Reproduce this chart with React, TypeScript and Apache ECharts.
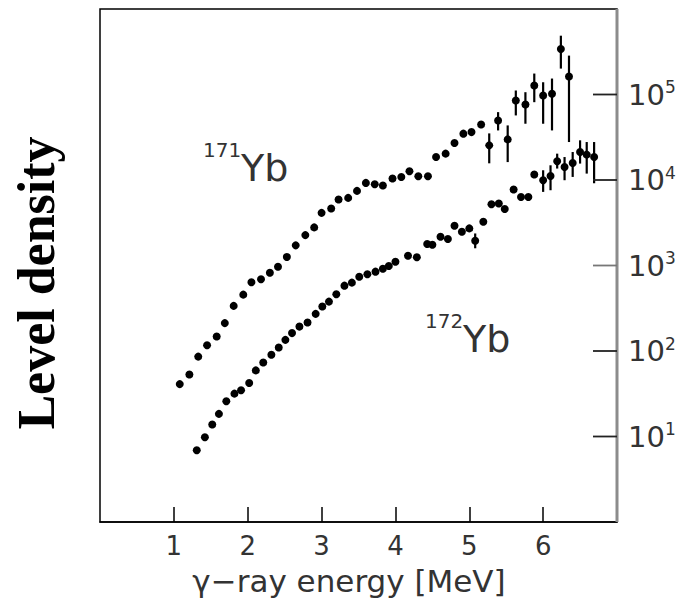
import React, { useEffect, useRef } from "react";
import * as echarts from "echarts";

// 171Yb level density (upper series)
const yb171X = [1.08, 1.21, 1.33, 1.45, 1.58, 1.69, 1.81, 1.94, 2.05, 2.18, 2.30, 2.41, 2.53, 2.65, 2.78, 2.90, 3.00, 3.13, 3.23, 3.36, 3.48, 3.60, 3.72, 3.83, 3.96, 4.08, 4.19, 4.31, 4.44, 4.55, 4.68, 4.80, 4.92, 5.03, 5.16, 5.27, 5.39, 5.52, 5.63, 5.76, 5.88, 6.00, 6.12, 6.24, 6.35];
const yb171Y = [41, 53, 86, 117, 148, 212, 337, 456, 637, 690, 824, 968, 1260, 1721, 2268, 2790, 4128, 4645, 5916, 6177, 7454, 9245, 8918, 8616, 10400, 10860, 12650, 11060, 11060, 18570, 20340, 27050, 34830, 36340, 44670, 25420, 49750, 29850, 85100, 76400, 127400, 97300, 101900, 341200, 162300];

// 171Yb error bars
const yb171ErrX = [5.27, 5.39, 5.52, 5.63, 5.76, 5.88, 6.00, 6.12, 6.24, 6.35];
const yb171ErrLo = [15670, 38000, 16200, 56900, 45500, 81300, 45500, 38000, 200900, 27800];
const yb171ErrHi = [35080, 62200, 43500, 111400, 106400, 175800, 139100, 153700, 487300, 285000];

// 172Yb level density (lower series)
const yb172X = [1.31, 1.42, 1.52, 1.61, 1.71, 1.82, 1.91, 2.02, 2.11, 2.21, 2.32, 2.42, 2.51, 2.60, 2.70, 2.81, 2.92, 3.01, 3.10, 3.20, 3.31, 3.41, 3.51, 3.62, 3.73, 3.83, 3.91, 4.00, 4.17, 4.29, 4.43, 4.50, 4.61, 4.71, 4.80, 4.90, 5.00, 5.08, 5.19, 5.30, 5.40, 5.48, 5.60, 5.70, 5.80, 5.88, 6.00, 6.10, 6.19, 6.29, 6.40, 6.50, 6.59, 6.69];
const yb172Y = [6.9, 9.8, 13.8, 18.4, 25.8, 31.7, 34.7, 42.3, 59.3, 73.5, 90.4, 110, 135, 162, 193, 215, 272, 331, 378, 461, 581, 630, 740, 789, 847, 918, 986, 1107, 1300, 1247, 1782, 1750, 2168, 2037, 2912, 2479, 2716, 1946, 3243, 5212, 5309, 4570, 7740, 6340, 6340, 11580, 9940, 11150, 16550, 14190, 15800, 21240, 19820, 18570];

// 172Yb error bars
const yb172ErrX = [5.08, 6.00, 6.10, 6.19, 6.29, 6.40, 6.50, 6.59, 6.69];
const yb172ErrLo = [1590, 7260, 7590, 13610, 9940, 10860, 15560, 11880, 9160];
const yb172ErrHi = [2370, 13000, 14860, 20330, 18560, 21240, 29110, 27800, 27800];

const xTickValues = [1, 2, 3, 4, 5, 6];
const yLabelExponents = [1, 2, 3, 4, 5];
const X_MIN = 0;
const X_MAX = 7;
const Y_MIN = 1;
const Y_MAX = 1e6;

const FONT = "DejaVu Sans";

export default function App() {
  const ref = useRef<HTMLDivElement>(null);

  useEffect(() => {
    if (!ref.current) return;
    const chart = echarts.init(ref.current, null, { renderer: "svg" });

    const pts171 = yb171X.map((x, i) => [x, yb171Y[i]]);
    const pts172 = yb172X.map((x, i) => [x, yb172Y[i]]);
    const err171 = yb171ErrX.map((x, i) => [x, yb171ErrLo[i], yb171ErrHi[i]]);
    const err172 = yb172ErrX.map((x, i) => [x, yb172ErrLo[i], yb172ErrHi[i]]);

    const renderErr = (params: any, api: any) => {
      const x = api.value(0);
      const lo = api.coord([x, api.value(1)]);
      const hi = api.coord([x, api.value(2)]);
      return {
        type: "line",
        shape: { x1: lo[0], y1: lo[1], x2: hi[0], y2: hi[1] },
        style: { stroke: "#000", lineWidth: 2.2 },
      };
    };

    const baseGraphic: any[] = [
      {
        type: "text",
        x: 36,
        y: 283,
        rotation: Math.PI / 2,
        style: {
          text: "Level density",
          font: "bold 52px 'Liberation Serif'",
          fill: "#000",
          textAlign: "center",
          textVerticalAlign: "middle",
        },
      },
      {
        type: "text",
        x: 349,
        y: 581,
        style: {
          text: "\u03b3\u2212ray energy [MeV]",
          font: `31px '${FONT}'`,
          fill: "#333",
          textAlign: "center",
          textVerticalAlign: "middle",
        },
      },
      {
        type: "text",
        x: 203,
        y: 150,
        style: { text: "171", font: `20px '${FONT}'`, fill: "#333", textAlign: "left", textVerticalAlign: "middle" },
      },
      {
        type: "text",
        x: 241,
        y: 168,
        style: { text: "Yb", font: `38px '${FONT}'`, fill: "#333", textAlign: "left", textVerticalAlign: "middle" },
      },
      {
        type: "text",
        x: 425,
        y: 321,
        style: { text: "172", font: `20px '${FONT}'`, fill: "#333", textAlign: "left", textVerticalAlign: "middle" },
      },
      {
        type: "text",
        x: 463,
        y: 339,
        style: { text: "Yb", font: `38px '${FONT}'`, fill: "#333", textAlign: "left", textVerticalAlign: "middle" },
      },
    ];

    const option: any = {
      animation: false,
      grid: {
        left: 100,
        right: 65,
        top: 9,
        bottom: 84,
        show: true,
        borderColor: "#000",
        borderWidth: 1.5,
      },
      xAxis: {
        type: "value",
        min: X_MIN,
        max: X_MAX,
        interval: 1,
        axisLine: { show: true, onZero: false, lineStyle: { color: "#000", width: 1.5 } },
        axisTick: {
          show: true,
          inside: true,
          length: 15,
          customValues: xTickValues,
          lineStyle: { color: "#000", width: 1.5 },
        },
        axisLabel: {
          customValues: xTickValues,
          fontSize: 26,
          fontFamily: FONT,
          color: "#333",
          margin: 11,
        },
        splitLine: { show: false },
      },
      yAxis: {
        type: "log",
        logBase: 10,
        min: Y_MIN,
        max: Y_MAX,
        position: "right",
        axisLine: { show: false, onZero: false },
        axisTick: { show: false },
        axisLabel: {
          margin: 11,
          formatter: (v: number) => {
            const e = Math.round(Math.log10(v));
            if (yLabelExponents.indexOf(e) < 0) return "";
            return `{a|10}{b|${e}}`;
          },
          rich: {
            a: { fontSize: 29, fontFamily: FONT, color: "#333", lineHeight: 32 },
            b: { fontSize: 17, fontFamily: FONT, color: "#333", verticalAlign: "top", lineHeight: 14 },
          },
        },
        splitLine: { show: false },
      },
      series: [
        {
          type: "custom",
          renderItem: renderErr,
          data: err171,
          encode: { x: 0, y: [1, 2] },
          z: 1,
        },
        {
          type: "custom",
          renderItem: renderErr,
          data: err172,
          encode: { x: 0, y: [1, 2] },
          z: 1,
        },
        {
          type: "scatter",
          data: pts171,
          symbol: "circle",
          symbolSize: 8,
          itemStyle: { color: "#000", opacity: 1 },
          z: 3,
        },
        {
          type: "scatter",
          data: pts172,
          symbol: "circle",
          symbolSize: 8,
          itemStyle: { color: "#000", opacity: 1 },
          z: 3,
        },
      ],
      graphic: baseGraphic,
    };

    chart.setOption(option);

    // Right-hand log axis line and inward ticks, positioned through the chart's own scales.
    try {
      const finder = { gridIndex: 0 };
      const top = chart.convertToPixel(finder as any, [X_MAX, Y_MAX]) as number[];
      const bottom = chart.convertToPixel(finder as any, [X_MAX, Y_MIN]) as number[];
      const extra: any[] = [
        {
          type: "line",
          z: 100,
          shape: { x1: top[0], y1: top[1], x2: bottom[0], y2: bottom[1] },
          style: { stroke: "#8c8c8c", lineWidth: 3 },
        },
      ];
      yLabelExponents.forEach((e) => {
        const p = chart.convertToPixel(finder as any, [X_MAX, Math.pow(10, e)]) as number[];
        extra.push({
          type: "line",
          z: 100,
          shape: { x1: p[0] - 24, y1: p[1], x2: p[0], y2: p[1] },
          style: { stroke: e === 3 ? "#777" : "#222", lineWidth: 1.8 },
        });
      });
      chart.setOption({ graphic: baseGraphic.concat(extra) });
    } catch (err) {
      // ignore
    }

    return () => chart.dispose();
  }, []);

  return (
    <div
      ref={ref}
      style={{ position: "fixed", left: 0, top: 0, width: 682, height: 606, background: "#fff" }}
    />
  );
}
